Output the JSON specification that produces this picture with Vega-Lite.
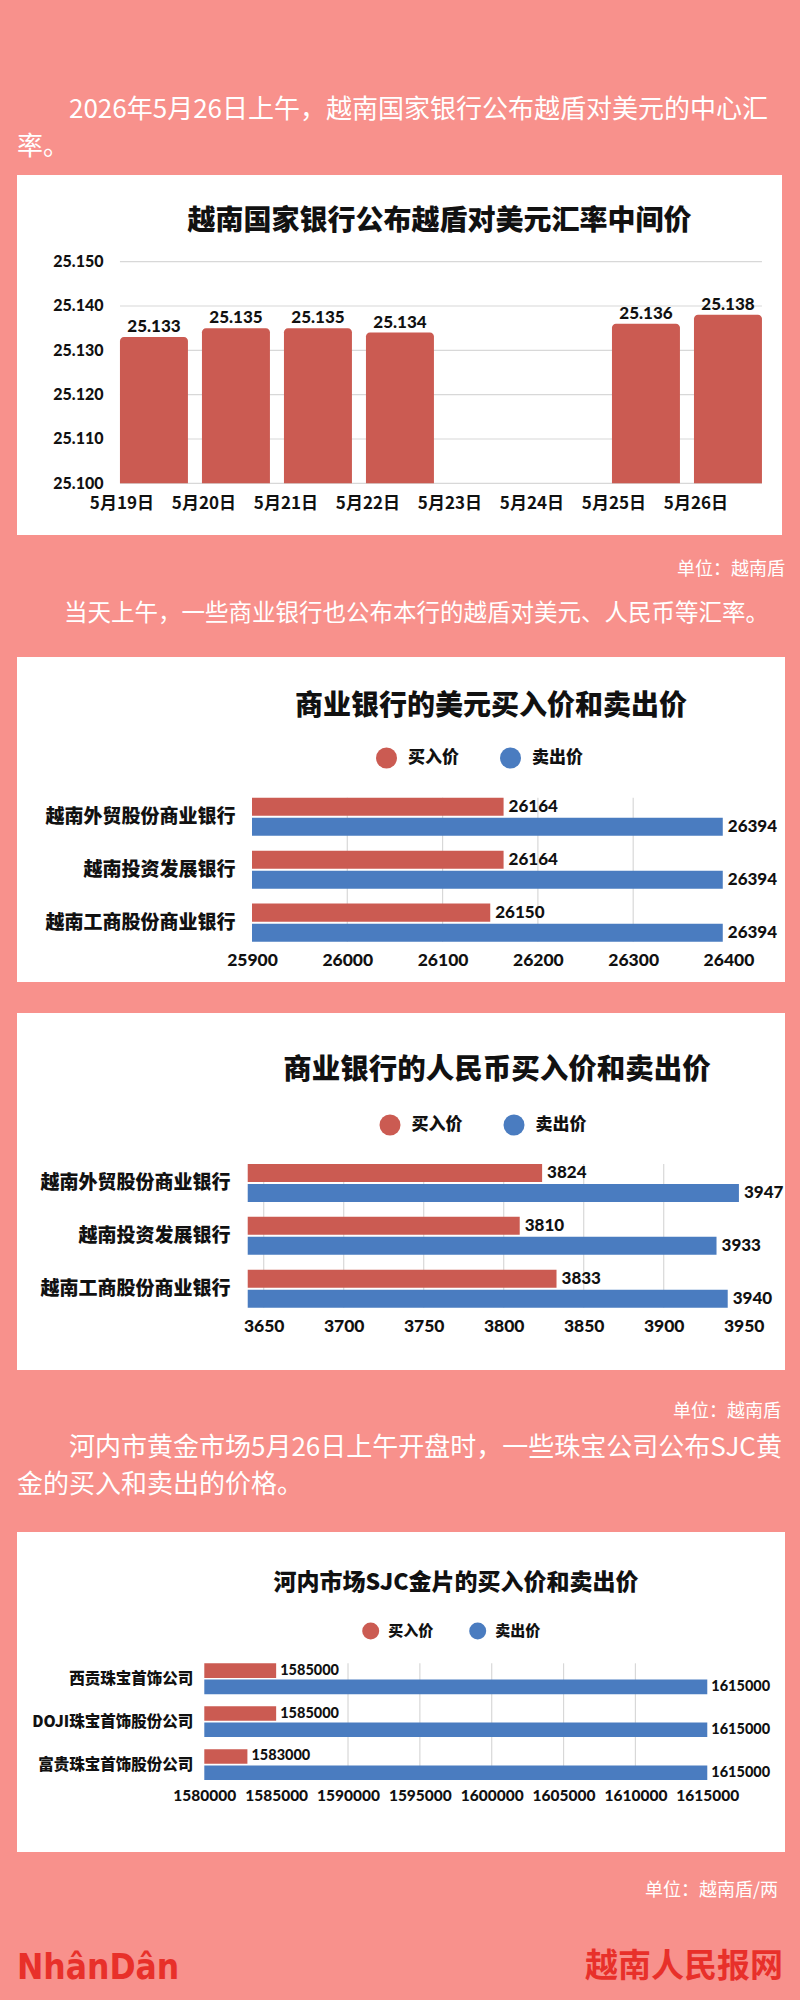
{
  "$schema": "https://vega.github.io/schema/vega-lite/v6.json",
  "background": "#F8918C",
  "padding": {"left": 17, "right": 15, "top": 0, "bottom": 0},
  "config": {
    "view": {"stroke": null},
    "title": {"offset": 0, "frame": "group", "font": "Noto Sans CJK SC"},
    "locale": {"number": {"decimal": ",", "thousands": ".", "grouping": [3], "currency": ["", ""]}}
  },
  "resolve": {
    "scale": {"color": "independent", "yOffset": "independent"},
    "legend": {"color": "independent"}
  },
  "datasets": {
    "blank": [{"t": ""}],
    "p1": [
      {"date": "5月19日", "rate": 25133},
      {"date": "5月20日", "rate": 25135},
      {"date": "5月21日", "rate": 25135},
      {"date": "5月22日", "rate": 25134},
      {"date": "5月25日", "rate": 25136},
      {"date": "5月26日", "rate": 25138}
    ],
    "p1grid": [{"v": 25100}, {"v": 25110}, {"v": 25120}, {"v": 25130}, {"v": 25140}, {"v": 25150}],
    "usd": [
      {"bank": "越南外贸股份商业银行", "type": "买入价", "price": 26164},
      {"bank": "越南外贸股份商业银行", "type": "卖出价", "price": 26394},
      {"bank": "越南投资发展银行", "type": "买入价", "price": 26164},
      {"bank": "越南投资发展银行", "type": "卖出价", "price": 26394},
      {"bank": "越南工商股份商业银行", "type": "买入价", "price": 26150},
      {"bank": "越南工商股份商业银行", "type": "卖出价", "price": 26394}
    ],
    "usdgrid": [{"v": 26000}, {"v": 26100}, {"v": 26200}, {"v": 26300}],
    "cny": [
      {"bank": "越南外贸股份商业银行", "type": "买入价", "price": 3824},
      {"bank": "越南外贸股份商业银行", "type": "卖出价", "price": 3947},
      {"bank": "越南投资发展银行", "type": "买入价", "price": 3810},
      {"bank": "越南投资发展银行", "type": "卖出价", "price": 3933},
      {"bank": "越南工商股份商业银行", "type": "买入价", "price": 3833},
      {"bank": "越南工商股份商业银行", "type": "卖出价", "price": 3940}
    ],
    "cnygrid": [{"v": 3650}, {"v": 3700}, {"v": 3750}, {"v": 3800}, {"v": 3850}, {"v": 3900}],
    "gold": [
      {"firm": "西贡珠宝首饰公司", "type": "买入价", "price": 1585000},
      {"firm": "西贡珠宝首饰公司", "type": "卖出价", "price": 1615000},
      {"firm": "DOJI珠宝首饰股份公司", "type": "买入价", "price": 1585000},
      {"firm": "DOJI珠宝首饰股份公司", "type": "卖出价", "price": 1615000},
      {"firm": "富贵珠宝首饰股份公司", "type": "买入价", "price": 1583000},
      {"firm": "富贵珠宝首饰股份公司", "type": "卖出价", "price": 1615000}
    ],
    "goldgrid": [{"v": 1590000}, {"v": 1595000}, {"v": 1600000}, {"v": 1605000}, {"v": 1610000}]
  },
  "vconcat": [
    {
      "width": 768, "height": 175,
      "data": {"name": "blank"},
      "mark": {"type": "text"},
      "encoding": {"text": {"field": "t"}},
      "title": {"text": ["\u200b\u3000\u30002026年5月26日上午，越南国家银行公布越盾对美元的中心汇", "率。"], "anchor": "start", "baseline": "middle", "dy": 177, "dx": 0, "lineHeight": 37, "fontSize": 26, "fontWeight": "normal", "color": "#ffffff"}
    },
    {
      "width": 765, "height": 360,
      "view": {"fill": "#ffffff", "stroke": null},
      "title": {"text": "越南国家银行公布越盾对美元汇率中间价", "anchor": "middle", "baseline": "middle", "dy": 78.5, "dx": 40, "fontSize": 28, "fontWeight": 900, "color": "#111111"},
      "layer": [
        {
          "data": {"name": "p1grid"},
          "mark": {"type": "rule", "color": "#d8d8d8", "strokeWidth": 1.2},
          "encoding": {
            "y": {"field": "v", "type": "quantitative"},
            "x": {"datum": "5月19日", "bandPosition": 0},
            "x2": {"datum": "5月26日", "bandPosition": 1}
          }
        },
        {
          "data": {"name": "p1"},
          "mark": {"type": "bar", "color": "#CB5B52", "cornerRadiusTopLeft": 4, "cornerRadiusTopRight": 4},
          "encoding": {
            "x": {"field": "date", "type": "nominal",
              "scale": {"domain": ["5月19日", "5月20日", "5月21日", "5月22日", "5月23日", "5月24日", "5月25日", "5月26日"], "paddingInner": 0.171, "paddingOuter": 0.75, "align": 0.837},
              "axis": {"orient": "bottom", "offset": -32, "title": null, "domain": false, "ticks": false, "tickSize": 0, "labelPadding": 0, "labelBaseline": "middle", "labelAngle": 0, "labelFont": "Noto Sans CJK SC", "labelFontWeight": "bold", "labelFontSize": 17, "labelColor": "#111111", "grid": false}},
            "y": {"field": "rate", "type": "quantitative",
              "scale": {"domain": [25088.34, 25169.55], "nice": false, "zero": false},
              "axis": {"orient": "left", "offset": -86, "values": [25100, 25110, 25120, 25130, 25140, 25150], "format": ",d", "title": null, "domain": false, "ticks": false, "tickSize": 0, "labelPadding": 0, "grid": false, "labelFont": "Lato", "labelFontWeight": 900, "labelFontSize": 16, "labelColor": "#111111", "labelBaseline": "middle"}},
            "y2": {"datum": 25100}
          }
        },
        {
          "data": {"name": "p1"},
          "mark": {"type": "text", "baseline": "alphabetic", "dy": -5, "font": "Lato", "fontWeight": 900, "fontSize": 17, "color": "#111111"},
          "encoding": {
            "x": {"field": "date", "type": "nominal"},
            "y": {"field": "rate", "type": "quantitative"},
            "text": {"field": "rate", "type": "quantitative", "format": ",d"}
          }
        }
      ]
    },
    {
      "width": 768, "height": 55,
      "data": {"name": "blank"},
      "mark": {"type": "text"},
      "encoding": {"text": {"field": "t"}},
      "title": {"text": "单位：越南盾", "anchor": "end", "baseline": "middle", "dy": 57, "dx": 0, "fontSize": 18, "fontWeight": "normal", "color": "#ffffff"}
    },
    {
      "width": 768, "height": 67,
      "data": {"name": "blank"},
      "mark": {"type": "text"},
      "encoding": {"text": {"field": "t"}},
      "title": {"text": "\u200b\u3000\u3000当天上午，一些商业银行也公布本行的越盾对美元、人民币等汇率。", "anchor": "start", "baseline": "middle", "dy": 51, "dx": 0, "fontSize": 23.5, "fontWeight": "normal", "color": "#ffffff"}
    },
    {
      "width": 768, "height": 325,
      "view": {"fill": "#ffffff", "stroke": null},
      "title": {"text": "商业银行的美元买入价和卖出价", "anchor": "middle", "baseline": "middle", "dy": 82, "dx": 90, "fontSize": 28, "fontWeight": 900, "color": "#111111"},
      "layer": [
        {
          "data": {"name": "usdgrid"},
          "mark": {"type": "rule", "color": "#d8d8d8", "strokeWidth": 1.2},
          "encoding": {
            "x": {"field": "v", "type": "quantitative"},
            "y": {"datum": "越南外贸股份商业银行", "bandPosition": 0},
            "y2": {"datum": "越南工商股份商业银行", "bandPosition": 1}
          }
        },
        {
          "data": {"name": "usd"},
          "mark": {"type": "bar"},
          "encoding": {
            "y": {"field": "bank", "type": "nominal",
              "scale": {"domain": ["越南外贸股份商业银行", "越南投资发展银行", "越南工商股份商业银行"], "range": [140.7, 284.7], "paddingInner": 0.28, "paddingOuter": 0},
              "axis": {"orient": "left", "offset": -218, "title": null, "domain": false, "ticks": false, "tickSize": 0, "labelPadding": 0, "grid": false, "labelFont": "Noto Sans CJK SC", "labelFontWeight": 900, "labelFontSize": 19, "labelColor": "#111111", "labelLimit": 400}},
            "yOffset": {"field": "type", "type": "nominal", "scale": {"domain": ["买入价", "卖出价"], "paddingInner": 0.1, "paddingOuter": 0}},
            "x": {"field": "price", "type": "quantitative",
              "scale": {"domain": [25653.4, 26459.3], "nice": false, "zero": false},
              "axis": {"orient": "bottom", "offset": -22, "values": [25900, 26000, 26100, 26200, 26300, 26400], "format": "d", "title": null, "domain": false, "ticks": false, "tickSize": 0, "labelPadding": 0, "labelBaseline": "middle", "grid": false, "labelFont": "Lato", "labelFontWeight": 900, "labelFontSize": 17.5, "labelColor": "#111111", "labelOverlap": false, "labelFlush": false}},
            "x2": {"datum": 25900},
            "color": {"field": "type", "type": "nominal",
              "scale": {"domain": ["买入价", "卖出价"], "range": ["#CB5B52", "#4A7CC0"]},
              "legend": {"orient": "none", "legendX": 359, "legendY": 90.5, "direction": "horizontal", "title": null, "symbolType": "circle", "symbolSize": 441, "symbolStrokeWidth": 0, "labelFont": "Noto Sans CJK SC", "labelFontWeight": 900, "labelFontSize": 17, "labelColor": "#111111", "labelOffset": 11, "columnPadding": 41, "padding": 0}}
          }
        },
        {
          "data": {"name": "usd"},
          "mark": {"type": "text", "align": "left", "baseline": "middle", "dx": 5, "font": "Lato", "fontWeight": 900, "fontSize": 17, "color": "#111111"},
          "encoding": {
            "y": {"field": "bank", "type": "nominal"},
            "yOffset": {"field": "type", "type": "nominal"},
            "x": {"field": "price", "type": "quantitative"},
            "text": {"field": "price", "type": "quantitative", "format": "d"}
          }
        }
      ]
    },
    {
      "width": 768, "height": 31,
      "data": {"name": "blank"},
      "mark": {"type": "text"},
      "encoding": {"text": {"field": "t"}}
    },
    {
      "width": 768, "height": 357,
      "view": {"fill": "#ffffff", "stroke": null},
      "title": {"text": "商业银行的人民币买入价和卖出价", "anchor": "middle", "baseline": "middle", "dy": 89, "dx": 96, "fontSize": 28.5, "fontWeight": 900, "color": "#111111"},
      "layer": [
        {
          "data": {"name": "cnygrid"},
          "mark": {"type": "rule", "color": "#d8d8d8", "strokeWidth": 1.2},
          "encoding": {
            "x": {"field": "v", "type": "quantitative"},
            "y": {"datum": "越南外贸股份商业银行", "bandPosition": 0},
            "y2": {"datum": "越南工商股份商业银行", "bandPosition": 1}
          }
        },
        {
          "data": {"name": "cny"},
          "mark": {"type": "bar"},
          "encoding": {
            "y": {"field": "bank", "type": "nominal",
              "scale": {"domain": ["越南外贸股份商业银行", "越南投资发展银行", "越南工商股份商业银行"], "range": [151, 294.7], "paddingInner": 0.28, "paddingOuter": 0},
              "axis": {"orient": "left", "offset": -213, "title": null, "domain": false, "ticks": false, "tickSize": 0, "labelPadding": 0, "grid": false, "labelFont": "Noto Sans CJK SC", "labelFontWeight": 900, "labelFontSize": 19, "labelColor": "#111111", "labelLimit": 400}},
            "yOffset": {"field": "type", "type": "nominal", "scale": {"domain": ["买入价", "卖出价"], "paddingInner": 0.1, "paddingOuter": 0}},
            "x": {"field": "price", "type": "quantitative",
              "scale": {"domain": [3495.8, 3975.8], "nice": false, "zero": false},
              "axis": {"orient": "bottom", "offset": -43.3, "values": [3650, 3700, 3750, 3800, 3850, 3900, 3950], "format": "d", "title": null, "domain": false, "ticks": false, "tickSize": 0, "labelPadding": 0, "labelBaseline": "middle", "grid": false, "labelFont": "Lato", "labelFontWeight": 900, "labelFontSize": 17.5, "labelColor": "#111111", "labelOverlap": false, "labelFlush": false}},
            "x2": {"datum": 3640},
            "color": {"field": "type", "type": "nominal",
              "scale": {"domain": ["买入价", "卖出价"], "range": ["#CB5B52", "#4A7CC0"]},
              "legend": {"orient": "none", "legendX": 362.5, "legendY": 101.5, "direction": "horizontal", "title": null, "symbolType": "circle", "symbolSize": 441, "symbolStrokeWidth": 0, "labelFont": "Noto Sans CJK SC", "labelFontWeight": 900, "labelFontSize": 17, "labelColor": "#111111", "labelOffset": 11, "columnPadding": 41, "padding": 0}}
          }
        },
        {
          "data": {"name": "cny"},
          "mark": {"type": "text", "align": "left", "baseline": "middle", "dx": 5, "font": "Lato", "fontWeight": 900, "fontSize": 17, "color": "#111111"},
          "encoding": {
            "y": {"field": "bank", "type": "nominal"},
            "yOffset": {"field": "type", "type": "nominal"},
            "x": {"field": "price", "type": "quantitative"},
            "text": {"field": "price", "type": "quantitative", "format": "d"}
          }
        }
      ]
    },
    {
      "width": 768, "height": 55,
      "data": {"name": "blank"},
      "mark": {"type": "text"},
      "encoding": {"text": {"field": "t"}},
      "title": {"text": "单位：越南盾", "anchor": "end", "baseline": "middle", "dy": 64, "dx": -4, "fontSize": 18, "fontWeight": "normal", "color": "#ffffff"}
    },
    {
      "width": 768, "height": 107,
      "data": {"name": "blank"},
      "mark": {"type": "text"},
      "encoding": {"text": {"field": "t"}},
      "title": {"text": ["\u200b\u3000\u3000河内市黄金市场5月26日上午开盘时，一些珠宝公司公布SJC黄", "金的买入和卖出的价格。"], "anchor": "start", "baseline": "middle", "dy": 89.5, "dx": 0, "lineHeight": 37, "fontSize": 26, "fontWeight": "normal", "color": "#ffffff"}
    },
    {
      "width": 768, "height": 320,
      "view": {"fill": "#ffffff", "stroke": null},
      "title": {"text": "河内市场SJC金片的买入价和卖出价", "anchor": "middle", "baseline": "middle", "dy": 78, "dx": 55, "fontSize": 23, "fontWeight": 900, "color": "#111111"},
      "layer": [
        {
          "data": {"name": "goldgrid"},
          "mark": {"type": "rule", "color": "#d8d8d8", "strokeWidth": 1.2},
          "encoding": {
            "x": {"field": "v", "type": "quantitative"},
            "y": {"datum": "西贡珠宝首饰公司", "bandPosition": 0},
            "y2": {"datum": "富贵珠宝首饰股份公司", "bandPosition": 1}
          }
        },
        {
          "data": {"name": "gold"},
          "mark": {"type": "bar"},
          "encoding": {
            "y": {"field": "firm", "type": "nominal",
              "scale": {"domain": ["西贡珠宝首饰公司", "DOJI珠宝首饰股份公司", "富贵珠宝首饰股份公司"], "range": [131.3, 248], "paddingInner": 0.281, "paddingOuter": 0},
              "axis": {"orient": "left", "offset": -175.7, "title": null, "domain": false, "ticks": false, "tickSize": 0, "labelPadding": 0, "grid": false, "labelFont": "Noto Sans CJK SC", "labelFontWeight": 900, "labelFontSize": 15.5, "labelColor": "#111111", "labelLimit": 400}},
            "yOffset": {"field": "type", "type": "nominal", "scale": {"domain": ["买入价", "卖出价"], "paddingInner": 0.1, "paddingOuter": 0}},
            "x": {"field": "price", "type": "quantitative",
              "scale": {"domain": [1566967, 1620408], "nice": false, "zero": false},
              "axis": {"orient": "bottom", "offset": -56.3, "values": [1580000, 1585000, 1590000, 1595000, 1600000, 1605000, 1610000, 1615000], "format": "d", "title": null, "domain": false, "ticks": false, "tickSize": 0, "labelPadding": 0, "labelBaseline": "middle", "grid": false, "labelFont": "Lato", "labelFontWeight": 900, "labelFontSize": 15.5, "labelColor": "#111111", "labelOverlap": false, "labelFlush": false}},
            "x2": {"datum": 1580000},
            "color": {"field": "type", "type": "nominal",
              "scale": {"domain": ["买入价", "卖出价"], "range": ["#CB5B52", "#4A7CC0"]},
              "legend": {"orient": "none", "legendX": 345.2, "legendY": 90.5, "direction": "horizontal", "title": null, "symbolType": "circle", "symbolSize": 289, "symbolStrokeWidth": 0, "labelFont": "Noto Sans CJK SC", "labelFontWeight": 900, "labelFontSize": 15, "labelColor": "#111111", "labelOffset": 9, "columnPadding": 35, "padding": 0}}
          }
        },
        {
          "data": {"name": "gold"},
          "mark": {"type": "text", "align": "left", "baseline": "middle", "dx": 4, "font": "Lato", "fontWeight": 900, "fontSize": 14.5, "color": "#111111"},
          "encoding": {
            "y": {"field": "firm", "type": "nominal"},
            "yOffset": {"field": "type", "type": "nominal"},
            "x": {"field": "price", "type": "quantitative"},
            "text": {"field": "price", "type": "quantitative", "format": "d"}
          }
        }
      ]
    },
    {
      "width": 768, "height": 63,
      "data": {"name": "blank"},
      "mark": {"type": "text"},
      "encoding": {"text": {"field": "t"}},
      "title": {"text": "单位：越南盾/两", "anchor": "end", "baseline": "middle", "dy": 60.5, "dx": -7, "fontSize": 18, "fontWeight": "normal", "color": "#ffffff"}
    },
    {
      "hconcat": [
        {
          "width": 384, "height": 85,
          "data": {"name": "blank"},
          "mark": {"type": "text"},
          "encoding": {"text": {"field": "t"}},
          "title": {"text": "NhânDân", "anchor": "start", "baseline": "middle", "dy": 92, "dx": 0, "font": "Liberation Sans Narrow, DejaVu Sans Condensed, Liberation Sans, sans-serif", "fontSize": 35, "fontWeight": "bold", "color": "#E8302A"}
        },
        {
          "width": 384, "height": 85,
          "data": {"name": "blank"},
          "mark": {"type": "text"},
          "encoding": {"text": {"field": "t"}},
          "title": {"text": "越南人民报网", "anchor": "end", "baseline": "middle", "dy": 89, "dx": -2, "fontSize": 33, "fontWeight": "bold", "color": "#E8302A"}
        }
      ],
      "spacing": 0,
      "bounds": "flush"
    }
  ],
  "spacing": 0,
  "bounds": "flush"
}
